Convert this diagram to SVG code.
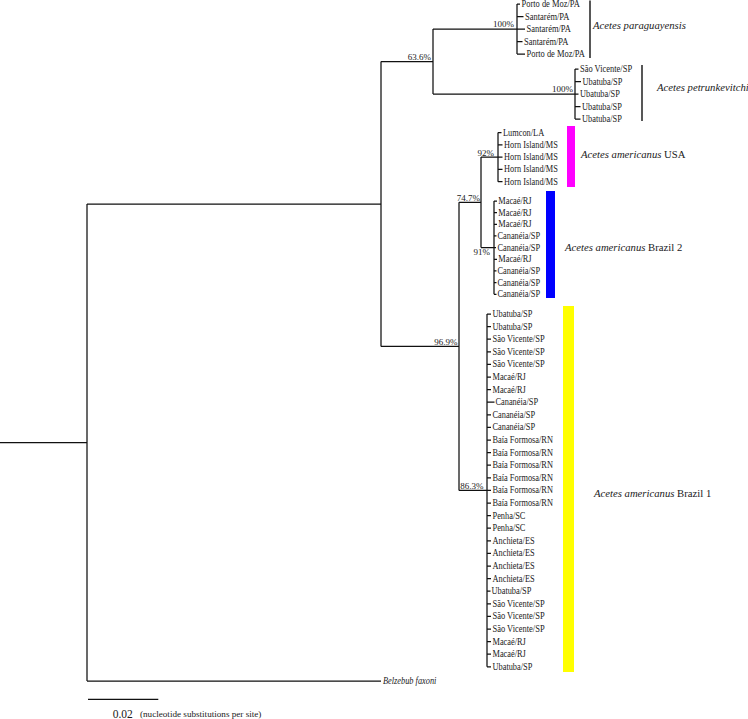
<svg xmlns="http://www.w3.org/2000/svg" width="748" height="719" viewBox="0 0 748 719">
<style>
text { font-family: "Liberation Serif", "Times New Roman", serif; fill: #1a1a1a; }
.t { font-size: 9.5px; }
.s { font-size: 9px; text-anchor: end; }
.sp { font-size: 10.7px; }
.i { font-style: italic; }
.ln { fill: none; stroke: #111; stroke-width: 1.25; }
.br { fill: none; stroke: #3a3a3a; stroke-width: 1.7; }
</style>
<rect width="748" height="719" fill="#fff"/>
<g id="connectors">
<path class="ln" d="M0,442.5H87 M87,204V681 M87,204H381 M87,681H381 M381,61.5V346.4 M381,61.5H433 M433,29V94 M433,29H525 M433,94H578.5 M517,4V54 M517,4H520 M517,16.5H523.5 M517,41.5H522.5 M517,54H525 M575,69V119 M575,69H578.5 M575,81.5H581 M575,106.5H580.5 M575,119H580.5 M381,346.4H459 M459,202.35V490.4 M459,202.35H481 M481,157.1V247.6 M481,157.1H502.5 M498,132.5V181.7 M498,132.5H501.5 M498,144.8H502.5 M498,169.4H502.5 M498,181.7H502.5 M481,247.6H496 M494,201V294.3 M494,201H497 M494,212.66H497 M494,224.32H497 M494,235.98H496.5 M494,259.3H497 M494,270.96H496.5 M494,282.62H496.5 M494,294.28H496.5 M459,490.4H491 M487,314V666.8 M487,314H491 M487,326.6H491 M487,339.2H491 M487,351.8H491 M487,364.4H491 M487,377H491 M487,389.6H491 M487,402.2H494.5 M487,414.8H491 M487,427.4H491 M487,440H491 M487,452.6H491 M487,465.2H491 M487,477.8H491 M487,503H491 M487,515.6H491 M487,528.2H491 M487,540.8H491 M487,553.4H491 M487,566H491 M487,578.6H491 M487,591.2H490.5 M487,603.8H491 M487,616.4H491 M487,629H491 M487,641.6H491 M487,654.2H491 M487,666.8H491"/>
<path class="ln" d="M88,699.3H158.3" stroke-width="1.3"/>
</g>
<g id="support">
<text class="s" x="514" y="27">100%</text>
<text class="s" x="431" y="59.5">63.6%</text>
<text class="s" x="573" y="92">100%</text>
<text class="s" x="494" y="155.5">92%</text>
<text class="s" x="480" y="200.5">74.7%</text>
<text class="s" x="490" y="255">91%</text>
<text class="s" x="457.5" y="344.5">96.9%</text>
<text class="s" x="483.5" y="488.5">86.3%</text>
</g>
<g id="clade-paraguayensis">
<text class="t" x="521.5" y="7" textLength="58.3" lengthAdjust="spacingAndGlyphs">Porto de Moz/PA</text>
<text class="t" x="525" y="19.5" textLength="44.4" lengthAdjust="spacingAndGlyphs">Santarém/PA</text>
<text class="t" x="526.5" y="32" textLength="44.4" lengthAdjust="spacingAndGlyphs">Santarém/PA</text>
<text class="t" x="524" y="44.5" textLength="44.4" lengthAdjust="spacingAndGlyphs">Santarém/PA</text>
<text class="t" x="526.5" y="57" textLength="58.3" lengthAdjust="spacingAndGlyphs">Porto de Moz/PA</text>
<path class="br" d="M590,0.5V58"/>
<text class="sp i" x="593" y="28.5">Acetes paraguayensis</text>
</g>
<g id="clade-petrunkevitchi">
<text class="t" x="580" y="72" textLength="52.1" lengthAdjust="spacingAndGlyphs">São Vicente/SP</text>
<text class="t" x="582.5" y="84.5" textLength="39.8" lengthAdjust="spacingAndGlyphs">Ubatuba/SP</text>
<text class="t" x="580" y="97" textLength="39.8" lengthAdjust="spacingAndGlyphs">Ubatuba/SP</text>
<text class="t" x="582" y="109.5" textLength="39.8" lengthAdjust="spacingAndGlyphs">Ubatuba/SP</text>
<text class="t" x="582" y="122" textLength="39.8" lengthAdjust="spacingAndGlyphs">Ubatuba/SP</text>
<path class="br" d="M642,65V121"/>
<text class="sp i" x="657" y="90.5">Acetes petrunkevitchi</text>
</g>
<g id="clade-usa">
<text class="t" x="503" y="135.5" textLength="41.2" lengthAdjust="spacingAndGlyphs">Lumcon/LA</text>
<text class="t" x="504" y="147.8" textLength="53.9" lengthAdjust="spacingAndGlyphs">Horn Island/MS</text>
<text class="t" x="504" y="160.1" textLength="53.9" lengthAdjust="spacingAndGlyphs">Horn Island/MS</text>
<text class="t" x="504" y="172.4" textLength="53.9" lengthAdjust="spacingAndGlyphs">Horn Island/MS</text>
<text class="t" x="504" y="184.7" textLength="53.9" lengthAdjust="spacingAndGlyphs">Horn Island/MS</text>
<rect x="567" y="126" width="8" height="61" fill="#ff00ff"/>
<text class="sp" x="581" y="157.5"><tspan class="i">Acetes americanus</tspan> USA</text>
</g>
<g id="clade-brazil2">
<text class="t" x="498.3" y="204" textLength="33.3" lengthAdjust="spacingAndGlyphs">Macaé/RJ</text>
<text class="t" x="498.3" y="215.7" textLength="33.3" lengthAdjust="spacingAndGlyphs">Macaé/RJ</text>
<text class="t" x="498.3" y="227.3" textLength="33.3" lengthAdjust="spacingAndGlyphs">Macaé/RJ</text>
<text class="t" x="497.5" y="239" textLength="42.6" lengthAdjust="spacingAndGlyphs">Cananéia/SP</text>
<text class="t" x="497.5" y="250.6" textLength="42.6" lengthAdjust="spacingAndGlyphs">Cananéia/SP</text>
<text class="t" x="498.3" y="262.3" textLength="33.3" lengthAdjust="spacingAndGlyphs">Macaé/RJ</text>
<text class="t" x="497.5" y="274" textLength="42.6" lengthAdjust="spacingAndGlyphs">Cananéia/SP</text>
<text class="t" x="497.5" y="285.6" textLength="42.6" lengthAdjust="spacingAndGlyphs">Cananéia/SP</text>
<text class="t" x="497.5" y="297.3" textLength="42.6" lengthAdjust="spacingAndGlyphs">Cananéia/SP</text>
<rect x="546" y="191" width="9" height="107" fill="#0000ff"/>
<text class="sp" x="565" y="251"><tspan class="i">Acetes americanus</tspan> Brazil 2</text>
</g>
<g id="clade-brazil1">
<text class="t" x="492.5" y="317" textLength="39.8" lengthAdjust="spacingAndGlyphs">Ubatuba/SP</text>
<text class="t" x="492.5" y="329.6" textLength="39.8" lengthAdjust="spacingAndGlyphs">Ubatuba/SP</text>
<text class="t" x="492.5" y="342.2" textLength="52.1" lengthAdjust="spacingAndGlyphs">São Vicente/SP</text>
<text class="t" x="492.5" y="354.8" textLength="52.1" lengthAdjust="spacingAndGlyphs">São Vicente/SP</text>
<text class="t" x="492.5" y="367.4" textLength="52.1" lengthAdjust="spacingAndGlyphs">São Vicente/SP</text>
<text class="t" x="492.5" y="380" textLength="33.3" lengthAdjust="spacingAndGlyphs">Macaé/RJ</text>
<text class="t" x="492.5" y="392.6" textLength="33.3" lengthAdjust="spacingAndGlyphs">Macaé/RJ</text>
<text class="t" x="495.5" y="405.2" textLength="42.6" lengthAdjust="spacingAndGlyphs">Cananéia/SP</text>
<text class="t" x="492.5" y="417.8" textLength="42.6" lengthAdjust="spacingAndGlyphs">Cananéia/SP</text>
<text class="t" x="492.5" y="430.4" textLength="42.6" lengthAdjust="spacingAndGlyphs">Cananéia/SP</text>
<text class="t" x="492.5" y="443" textLength="60.4" lengthAdjust="spacingAndGlyphs">Baía Formosa/RN</text>
<text class="t" x="492.5" y="455.6" textLength="60.4" lengthAdjust="spacingAndGlyphs">Baía Formosa/RN</text>
<text class="t" x="492.5" y="468.2" textLength="60.4" lengthAdjust="spacingAndGlyphs">Baía Formosa/RN</text>
<text class="t" x="492.5" y="480.8" textLength="60.4" lengthAdjust="spacingAndGlyphs">Baía Formosa/RN</text>
<text class="t" x="492.5" y="493.4" textLength="60.4" lengthAdjust="spacingAndGlyphs">Baía Formosa/RN</text>
<text class="t" x="492.5" y="506" textLength="60.4" lengthAdjust="spacingAndGlyphs">Baía Formosa/RN</text>
<text class="t" x="492.5" y="518.6" textLength="32.9" lengthAdjust="spacingAndGlyphs">Penha/SC</text>
<text class="t" x="492.5" y="531.2" textLength="32.9" lengthAdjust="spacingAndGlyphs">Penha/SC</text>
<text class="t" x="492.5" y="543.8" textLength="42.1" lengthAdjust="spacingAndGlyphs">Anchieta/ES</text>
<text class="t" x="492.5" y="556.4" textLength="42.1" lengthAdjust="spacingAndGlyphs">Anchieta/ES</text>
<text class="t" x="492.5" y="569" textLength="42.1" lengthAdjust="spacingAndGlyphs">Anchieta/ES</text>
<text class="t" x="492.5" y="581.6" textLength="42.1" lengthAdjust="spacingAndGlyphs">Anchieta/ES</text>
<text class="t" x="491.5" y="594.2" textLength="39.8" lengthAdjust="spacingAndGlyphs">Ubatuba/SP</text>
<text class="t" x="492.5" y="606.8" textLength="52.1" lengthAdjust="spacingAndGlyphs">São Vicente/SP</text>
<text class="t" x="492.5" y="619.4" textLength="52.1" lengthAdjust="spacingAndGlyphs">São Vicente/SP</text>
<text class="t" x="492.5" y="632" textLength="52.1" lengthAdjust="spacingAndGlyphs">São Vicente/SP</text>
<text class="t" x="492.5" y="644.6" textLength="33.3" lengthAdjust="spacingAndGlyphs">Macaé/RJ</text>
<text class="t" x="492.5" y="657.2" textLength="33.3" lengthAdjust="spacingAndGlyphs">Macaé/RJ</text>
<text class="t" x="492.5" y="669.8" textLength="39.8" lengthAdjust="spacingAndGlyphs">Ubatuba/SP</text>
<rect x="563" y="306" width="11" height="366" fill="#ffff00"/>
<text class="sp" x="594" y="496.5"><tspan class="i">Acetes americanus</tspan> Brazil 1</text>
</g>
<g id="outgroup">
<text class="t i" x="383" y="683.5" textLength="53.4" lengthAdjust="spacingAndGlyphs">Belzebub faxoni</text>
</g>
<g id="scale">
<text x="112.7" y="718" font-family="Liberation Sans, Arial, sans-serif" font-size="11.5">0.02</text>
<text x="140" y="717" font-size="9.15">(nucleotide substitutions per site)</text>
</g>
</svg>
